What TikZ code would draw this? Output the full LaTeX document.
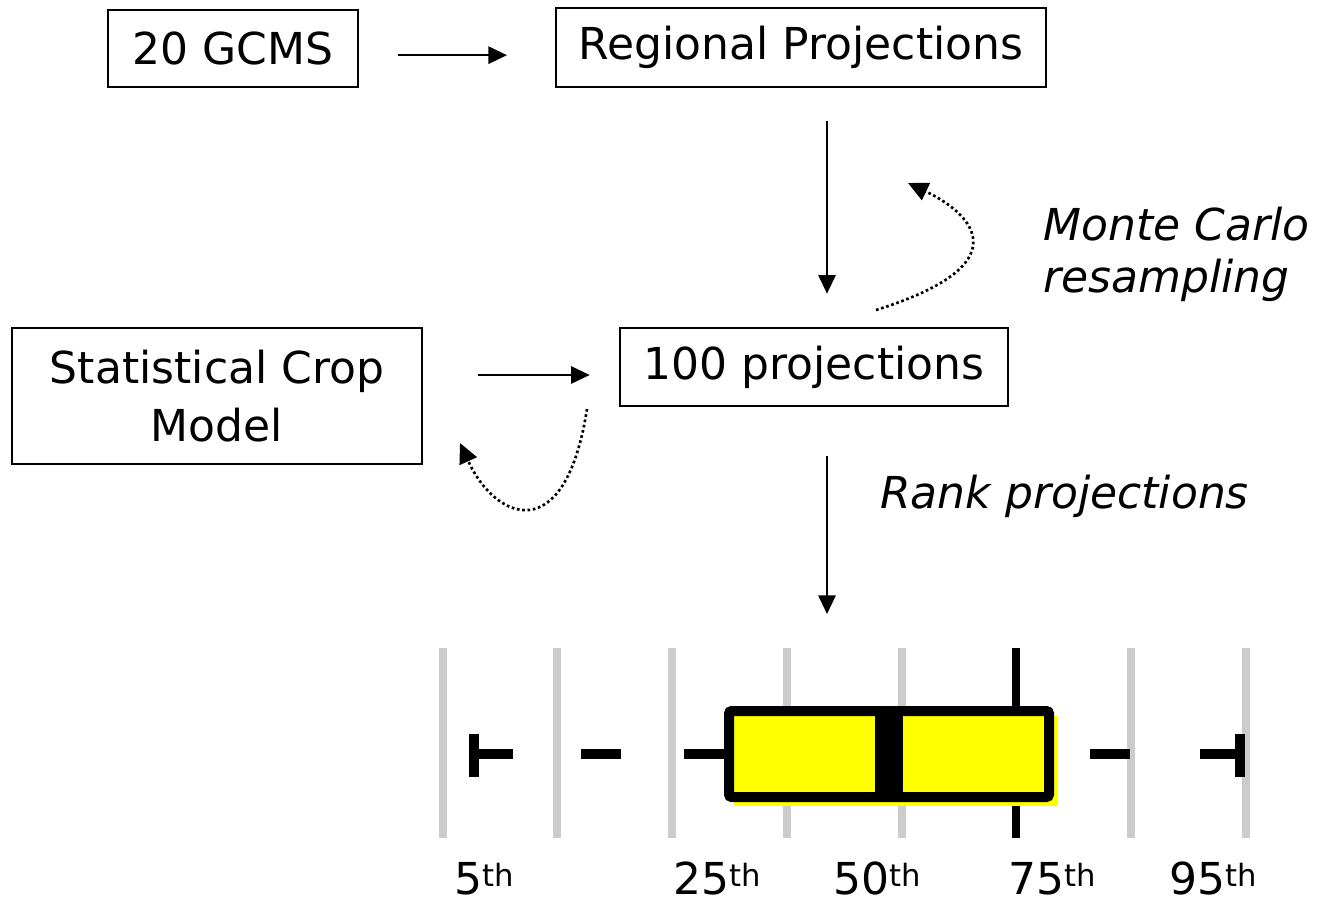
\documentclass[tikz,border=0pt]{standalone}
\usepackage{fontspec}
\setmainfont{DejaVu Sans}
\usetikzlibrary{arrows.meta}
\definecolor{boxyellow}{RGB}{255,255,0}
\definecolor{gridgray}{RGB}{204,204,204}
\newcommand{\ordth}{\raisebox{6pt}{\fontsize{23}{23}\selectfont th}}
\begin{document}
\begin{tikzpicture}[x=0.75pt,y=-0.75pt,
  box/.style={draw,line width=1.5pt,inner sep=0pt,font=\fontsize{33}{43}\selectfont,align=center},
  lbl/.style={font=\fontsize{33}{43}\selectfont\itshape,anchor=base west,inner sep=0pt},
  pct/.style={font=\fontsize{33}{43}\selectfont,anchor=base,inner sep=0pt},
  arr/.style={-{Triangle[length=14pt,width=13pt]},line width=1.5pt},
  dots/.style={-{Triangle[length=15pt,width=14pt]},line width=2pt,dotted},
  grid/.style={line width=6pt,gridgray},
  whisk/.style={line width=7pt,black}]
\useasboundingbox (0,0) rectangle (1317,903);
% boxes
\node[box,minimum width=187.5pt,minimum height=57.75pt] (gcms) at (233,48.5) {20 GCMS};
\node[box,minimum width=367.5pt,minimum height=59.25pt] (reg) at (801,47.5) {Regional Projections};
\node[box,minimum width=291pt,minimum height=58.5pt] (proj) at (814,367) {100 projections};
\node[box,minimum width=307.5pt,minimum height=102pt] (stat) at (217,396) {Statistical Crop\\Model};
\coordinate (bp) at (827,614);
% arrows
\draw[arr,shorten <=29pt,shorten >=36pt] ([yshift=-5pt]gcms.east) -- ([yshift=-5pt]reg.west |- gcms.east);
\draw[arr,shorten <=25pt,shorten >=25pt] (reg.south -| bp) -- (proj.north -| bp);
\draw[arr,shorten <=41pt,shorten >=22pt] ([yshift=-6pt]stat.east |- proj) -- ([yshift=-6pt]proj.west);
\draw[arr,shorten <=37pt] (proj.south -| bp) -- (bp);
% dotted loops
\draw[dots] ([shift={(62,-17)}]proj.north) .. controls (1020,265) and (975,215) .. (908,183);
\draw[dots] ([shift={(-32,2)}]proj.south west) .. controls (565,550) and (495,520) .. (460,443);
% labels
\node[lbl] (mc) at (1043,240) {Monte Carlo};
\node[lbl] (rs) at (1043,292) {resampling};
\node[lbl] (rank) at (880,508) {Rank projections};
% box plot grid
\foreach \x in {443,557,672,787,902,1131,1246} \draw[grid] (\x,648) -- (\x,838);
\draw[line width=6pt,black] (1016,648) -- (1016,838);
% box
\fill[boxyellow] (734,716) rectangle (1058,806);
\draw[line width=7.5pt,fill=boxyellow,rounded corners=2pt] (729,711) rectangle (1049,797);
\fill[black] (875,706) rectangle (903,802);
% whiskers
\draw[whisk] (474,734) -- (474,777);
\draw[whisk] (471,754) -- (513,754);
\draw[whisk] (581,754) -- (621,754);
\draw[whisk] (684,754) -- (725,754);
\draw[whisk] (1090,754) -- (1130,754);
\draw[whisk] (1200,754) -- (1243,754);
\draw[whisk] (1240,734) -- (1240,777);
% percentile labels
\node[pct] (p5) at (484,894) {5\ordth};
\node[pct] (p25) at (717,894) {25\ordth};
\node[pct] (p50) at (877,894) {50\ordth};
\node[pct] (p75) at (1052,894) {75\ordth};
\node[pct] (p95) at (1213,894) {95\ordth};
\end{tikzpicture}
\end{document}
